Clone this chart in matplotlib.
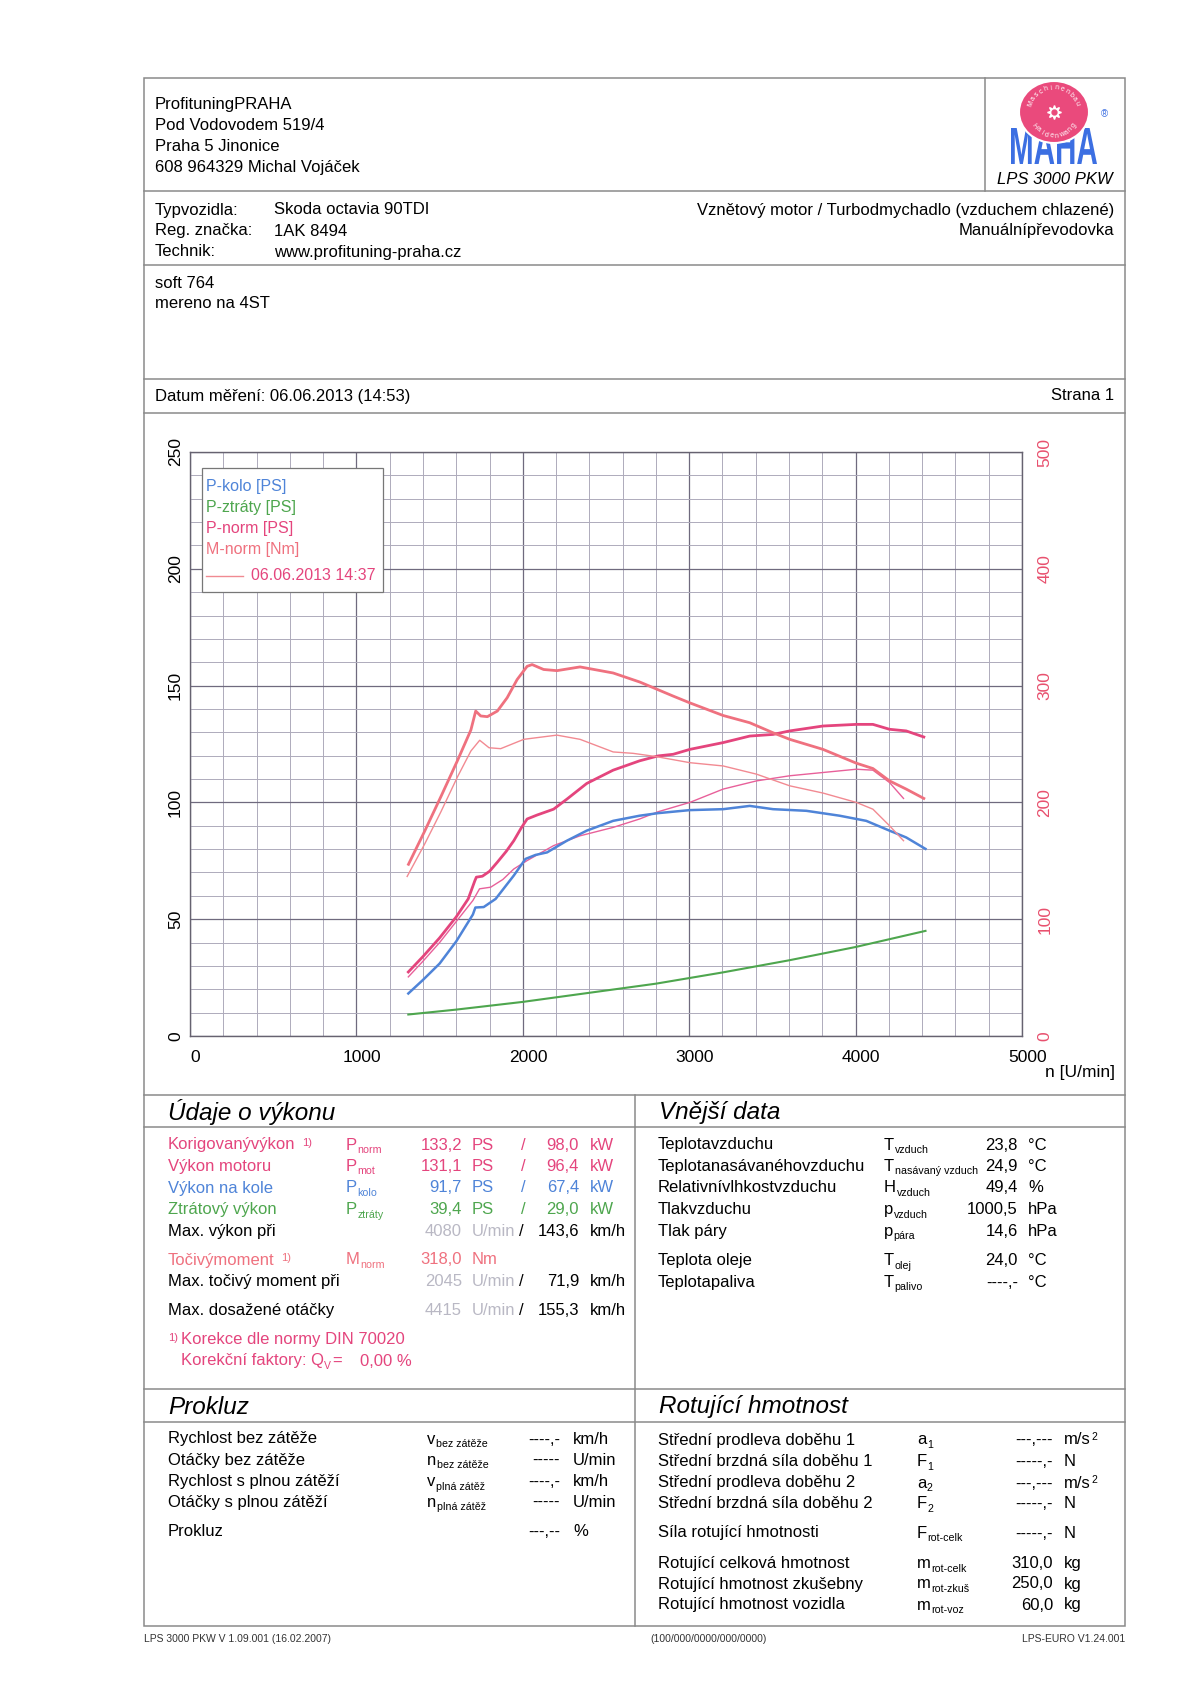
import matplotlib
matplotlib.use("Agg")
import matplotlib.pyplot as plt
from matplotlib.patches import Ellipse, Rectangle, PathPatch
from matplotlib.textpath import TextPath
from matplotlib.font_manager import FontProperties
from matplotlib.transforms import Affine2D, ScaledTranslation
import numpy as np

plt.rcParams['font.family'] = ['Liberation Sans', 'DejaVu Sans']

# ---- curve data (rpm / PS, Nm) ----
# current run (thick)
rpm_pnorm = [1312, 1400, 1500, 1600, 1672, 1712, 1721, 1757, 1800, 1847, 1900, 1946, 1990,
             2026, 2086, 2185, 2265, 2384, 2543, 2702, 2813, 2904, 3004, 3204, 3364, 3504,
             3604, 3804, 4004, 4104, 4204, 4304, 4410]
p_norm = [27.4, 34.0, 42.0, 51.0, 58.7, 66.5, 68.0, 68.4, 70.5, 74.4, 79.0, 83.6, 89.0,
          92.9, 94.6, 97.1, 101.4, 108.1, 113.8, 117.8, 119.9, 120.6, 122.7, 125.6, 128.4, 129.1,
          130.6, 132.7, 133.4, 133.4, 131.3, 130.6, 128.0]

rpm_mnorm = [1313, 1409, 1508, 1608, 1688, 1717, 1747, 1787, 1847, 1906, 1966, 2026, 2056,
             2125, 2205, 2344, 2543, 2704, 2904, 3004, 3204, 3364, 3504, 3604, 3804, 4004,
             4104, 4204, 4304, 4410]
m_norm = [147.0, 175.0, 205.0, 236.0, 262.0, 278.2, 274.0, 273.4, 278.2, 289.6, 305.2, 316.5, 318.0,
          313.8, 312.8, 316.0, 310.8, 303.0, 291.0, 285.2, 274.4, 268.2, 259.6, 254.0, 245.4, 233.6,
          229.0, 218.4, 211.4, 203.4]

rpm_kolo = [1312, 1400, 1500, 1600, 1700, 1715, 1765, 1837, 1946, 2016, 2076, 2146, 2265, 2384,
            2543, 2702, 2813, 3004, 3204, 3364, 3504, 3704, 3904, 4064, 4204, 4304, 4420]
p_kolo = [18.2, 24.0, 31.0, 40.5, 52.0, 55.0, 55.2, 58.7, 68.7, 75.8, 77.5, 78.6, 83.6, 87.9,
          92.1, 94.3, 95.4, 96.7, 97.1, 98.5, 97.1, 96.4, 94.3, 92.1, 87.9, 85.0, 80.1]

rpm_ztraty = [1312, 1600, 2000, 2400, 2800, 3200, 3600, 4000, 4420]
p_ztraty = [9.2, 11.3, 14.6, 18.5, 22.4, 27.2, 32.4, 38.1, 45.0]

# comparison run 06.06.2013 14:37 (thin)
rpm_p_old = [1312, 1400, 1500, 1600, 1700, 1740, 1807, 1880, 1946, 2026, 2185, 2344, 2543,
             2702, 2813, 3004, 3204, 3404, 3604, 3804, 4004, 4104, 4204, 4288]
p_old = [25.3, 32.0, 40.0, 49.0, 58.0, 63.0, 63.7, 67.0, 71.5, 75.1, 81.5, 85.7, 89.3,
         92.9, 96.0, 100.0, 105.7, 109.2, 111.4, 112.8, 114.2, 113.8, 108.5, 101.7]

rpm_m_old = [1305, 1409, 1508, 1608, 1688, 1741, 1797, 1867, 2006, 2205, 2344, 2543, 2663,
             2802, 3004, 3204, 3404, 3604, 3804, 4004, 4104, 4204, 4288]
m_old = [136.6, 164.0, 192.0, 222.0, 244.0, 253.2, 246.8, 246.0, 254.0, 257.6, 254.0, 243.2, 242.0,
         239.2, 234.0, 231.2, 224.2, 214.2, 208.0, 200.0, 194.2, 180.0, 167.2]

# ---- table data ----
header_lines = ["ProfituningPRAHA", "Pod Vodovodem 519/4", "Praha 5 Jinonice", "608 964329 Michal Vojáček"]
vehicle_keys = ["Typvozidla:", "Reg. značka:", "Technik:"]
vehicle_vals = ["Skoda octavia 90TDI", "1AK 8494", "www.profituning-praha.cz"]
engine_lines = ["Vznětový motor / Turbodmychadlo (vzduchem chlazené)", "Manuálnípřevodovka"]
notes = ["soft 764", "mereno na 4ST"]

perf_labels = ["Korigovanývýkon", "Výkon motoru", "Výkon na kole", "Ztrátový výkon"]
perf_subs = ["norm", "mot", "kolo", "ztráty"]
perf_ps = ["133,2", "131,1", "91,7", "39,4"]
perf_kw = ["98,0", "96,4", "67,4", "29,0"]

ext_labels = ["Teplotavzduchu", "Teplotanasávanéhovzduchu", "Relativnívlhkostvzduchu",
              "Tlakvzduchu", "Tlak páry", "Teplota oleje", "Teplotapaliva"]
ext_base = ["T", "T", "H", "p", "p", "T", "T"]
ext_subs = ["vzduch", "nasávaný vzduch", "vzduch", "vzduch", "pára", "olej", "palivo"]
ext_vals = ["23,8", "24,9", "49,4", "1000,5", "14,6", "24,0", "----,-"]
ext_units = ["°C", "°C", "%", "hPa", "hPa", "°C", "°C"]

slip_labels = ["Rychlost bez zátěže", "Otáčky bez zátěže", "Rychlost s plnou zátěží",
               "Otáčky s plnou zátěží", "Prokluz"]
slip_base = ["v", "n", "v", "n", ""]
slip_subs = ["bez zátěže", "bez zátěže", "plná zátěž", "plná zátěž", ""]
slip_vals = ["----,-", "-----", "----,-", "-----", "---,--"]
slip_units = ["km/h", "U/min", "km/h", "U/min", "%"]

rot_labels = ["Střední prodleva doběhu 1", "Střední brzdná síla doběhu 1", "Střední prodleva doběhu 2",
              "Střední brzdná síla doběhu 2", "Síla rotující hmotnosti", "Rotující celková hmotnost",
              "Rotující hmotnost zkušebny", "Rotující hmotnost vozidla"]
rot_base = ["a", "F", "a", "F", "F", "m", "m", "m"]
rot_subs = ["1", "1", "2", "2", "rot-celk", "rot-celk", "rot-zkuš", "rot-voz"]
rot_vals = ["---,---", "-----,-", "---,---", "-----,-", "-----,-", "310,0", "250,0", "60,0"]
rot_units = ["m/s", "N", "m/s", "N", "N", "kg", "kg", "kg"]

PINK = '#e4457d'
SALMON = '#ef717f'
BLUE = '#4f84d8'
GREEN = '#4ea64e'
GREY = '#b9b8c4'
LINE = '#8a8a8a'

W, H = 1200, 1696
fig = plt.figure(figsize=(12, 16.96), dpi=100)

# ---- chart ----
x0, x1, y0, y1 = 190, 1022, 452, 1036
ax = fig.add_axes([x0 / W, 1 - y1 / H, (x1 - x0) / W, (y1 - y0) / H], zorder=1)
ax.set_xlim(0, 5000)
ax.set_ylim(0, 250)
ax.set_xticks(np.arange(0, 5001, 1000))
ax.set_xticks(np.arange(0, 5001, 200), minor=True)
ax.set_yticks(np.arange(0, 251, 50))
ax.set_yticks(np.arange(0, 251, 10), minor=True)
ax.grid(which='minor', color='#aeabbb', lw=0.7)
ax.grid(which='major', color='#6f6a7e', lw=0.9)
ax.tick_params(which='both', length=0)
ax.tick_params(axis='x', labelsize=12.5, pad=10)
ax.tick_params(axis='y', labelsize=12.5, pad=5, labelrotation=90)
for lbl in ax.get_yticklabels():
    lbl.set_va('center')
off = ScaledTranslation(0.055, 0, fig.dpi_scale_trans)
for lbl in ax.get_xticklabels():
    lbl.set_transform(lbl.get_transform() + off)
for s in ax.spines.values():
    s.set_color('#666270')
    s.set_linewidth(1)

ax.plot(rpm_ztraty, p_ztraty, color=GREEN, lw=1.5)
ax.plot(rpm_p_old, p_old, color='#e8609a', lw=1.0)
ax.plot(rpm_kolo, p_kolo, color=BLUE, lw=1.8)
ax.plot(rpm_pnorm, p_norm, color=PINK, lw=2.0)

ax2 = ax.twinx()
ax2.set_ylim(0, 500)
ax2.set_yticks(np.arange(0, 501, 100))
ax2.tick_params(length=0, labelsize=12.5, pad=11, labelcolor='#e8506e', labelrotation=90)
for lbl in ax2.get_yticklabels():
    lbl.set_va('center')
for s in ax2.spines.values():
    s.set_visible(False)
ax2.plot(rpm_m_old, m_old, color='#f28a92', lw=1.0)
ax2.plot(rpm_mnorm, m_norm, color=SALMON, lw=2.0)

# ---- page overlay (pixel coordinates) ----
page = fig.add_axes([0, 0, 1, 1], zorder=10)
page.set_xlim(0, W)
page.set_ylim(H, 0)
page.axis('off')
page.patch.set_alpha(0)
renderer = fig.canvas.get_renderer()


def txt(x, y, s, size=12, color='black', ha='left', va='center', **kw):
    return page.text(x, y, s, fontsize=size, color=color, ha=ha, va=va, **kw)


def width(t):
    return t.get_window_extent(renderer).width


def sym(x, y, base, sub, color='black', size=12):
    if not base:
        return
    t = txt(x, y, base, size, color)
    txt(x + width(t) + 0.5, y + 5, sub, size * 0.64, color)


def hline(y, xa=144, xb=1125):
    page.plot([xa, xb], [y, y], color=LINE, lw=1.1)


def vline(x, ya, yb):
    page.plot([x, x], [ya, yb], color=LINE, lw=1.1)


# frame
page.add_patch(Rectangle((144, 78), 981, 1548, fill=False, ec=LINE, lw=1.1))
vline(985, 78, 190.5)
for yy in [190.5, 265, 378.7, 413, 1095, 1389]:
    hline(yy)
hline(1127, 144, 635)
hline(1127, 635, 1125)
hline(1422)
vline(635, 1095, 1626)

# header
for i, s in enumerate(header_lines):
    txt(155, 104 + i * 21.3, s)
for i, (k, v) in enumerate(zip(vehicle_keys, vehicle_vals)):
    txt(155, 210 + i * 21, k)
    txt(274, 210 + i * 21, v)
for i, s in enumerate(engine_lines):
    txt(1114.5, 210 + i * 21, s, ha='right')
for i, s in enumerate(notes):
    txt(155, 283.5 + i * 20.5, s)
txt(155, 396, "Datum měření: 06.06.2013 (14:53)")
txt(1114.5, 396, "Strana 1", ha='right')

# logo
fp = FontProperties(family='Liberation Sans', weight='bold')
tp = TextPath((0, 0), "MAHA", size=100, prop=fp)
bb = tp.get_extents()
tr = Affine2D().translate(-bb.x0, -bb.y0).scale(86 / bb.width, -36 / bb.height).translate(1011, 164)
page.add_patch(PathPatch(tr.transform_path(tp), fc='#3c6fe2', ec='none', zorder=3))
cx, cy = 1054, 112
page.add_patch(Ellipse((cx, cy), 70, 62, fc='#ea4a7c', ec='white', lw=1.5, zorder=4))
page.plot(cx, cy, marker=(8, 1, 0), ms=10, color='white', zorder=5)
page.plot(cx, cy, marker='o', ms=3.5, color='#ea4a7c', zorder=6)
for word, a0, a1, r, top in [("Maschinenbau", 160, 20, 24, True), ("Haldenwang", 215, 325, 24, False)]:
    angs = np.linspace(a0, a1, len(word))
    for ch, a in zip(word, angs):
        rot = a - 90 if top else a + 90
        page.text(cx + r * np.cos(np.radians(a)), cy - r * np.sin(np.radians(a)), ch,
                  fontsize=5, color='white', ha='center', va='center', rotation=rot, zorder=6)
txt(1101, 114, "®", size=7, color='#3c6fe2')
txt(1055, 180, "LPS 3000 PKW", size=12, ha='center', style='italic')

# chart extras
txt(1080, 1073, "n [U/min]", size=12.5, ha='center')
page.add_patch(Rectangle((201.7, 468.3), 181.6, 123.4, fc='white', ec='#777777', lw=0.9, zorder=2))
leg = [("P-kolo [PS]", BLUE), ("P-ztráty [PS]", GREEN), ("P-norm [PS]", PINK), ("M-norm [Nm]", SALMON)]
for i, (s, c) in enumerate(leg):
    txt(206, 486.7 + i * 20.9, s, size=11.5, color=c, zorder=3)
page.plot([206, 243], [576, 576], color='#f08a92', lw=1, zorder=3)
txt(251, 576, "06.06.2013 14:37", size=11.5, color=PINK, zorder=3)

# Údaje o výkonu
txt(168, 1112, "Údaje o výkonu", size=17.5, style='italic')
perf_colors = [PINK, PINK, BLUE, GREEN]
rows = [1145, 1166.5, 1188, 1209.8]
for i in range(4):
    y = rows[i]
    c = perf_colors[i]
    t = txt(167.7, y, perf_labels[i], color=c)
    if i == 0:
        txt(167.7 + width(t) + 7, y - 2, "1)", size=8, color=c)
    sym(346, y, 'P', perf_subs[i], c)
    txt(462, y, perf_ps[i], color=c, ha='right')
    txt(472, y, "PS", color=c)
    txt(523.7, y, "/", color=c, ha='center')
    txt(579, y, perf_kw[i], color=c, ha='right')
    txt(589.7, y, "kW", color=c)
for y, lab, rpm, kmh in [(1231.4, "Max. výkon při", "4080", "143,6"),
                         (1281.5, "Max. točivý moment při", "2045", "71,9"),
                         (1310.5, "Max. dosažené otáčky", "4415", "155,3")]:
    txt(167.7, y, lab)
    txt(462, y, rpm, color=GREY, ha='right')
    txt(472, y, "U/min", color=GREY)
    txt(521, y, "/", ha='center')
    txt(579, y, kmh, ha='right')
    txt(589.7, y, "km/h")
t = txt(167.7, 1260, "Točivýmoment", color=SALMON)
txt(167.7 + width(t) + 7, 1258, "1)", size=8, color=SALMON)
sym(346, 1260, 'M', "norm", SALMON)
txt(462, 1260, "318,0", color=SALMON, ha='right')
txt(472, 1260, "Nm", color=SALMON)
txt(167.7, 1338, "1)", size=8, color=PINK)
txt(180.7, 1339.5, "Korekce dle normy DIN 70020", size=12, color=PINK)
t = txt(180.7, 1361, "Korekční faktory: Q", size=12, color=PINK)
qx = 180.7 + width(t)
txt(qx + 0.5, 1366, "V", size=7.5, color=PINK)
txt(qx + 9, 1361, "=", size=12, color=PINK)
txt(360, 1361, "0,00 %", size=12, color=PINK)

# Vnější data
txt(659, 1112, "Vnější data", size=17.5, style='italic')
ext_rows = [1145, 1166.5, 1188, 1209.8, 1231.4, 1260.6, 1282.3]
for i, y in enumerate(ext_rows):
    txt(658, y, ext_labels[i])
    sym(884, y, ext_base[i], ext_subs[i])
    txt(1018, y, ext_vals[i], ha='right')
    txt(1028, y, ext_units[i])

# Prokluz
txt(168, 1407, "Prokluz", size=17.5, style='italic')
slip_rows = [1439, 1460.5, 1481.5, 1502.5, 1532]
for i, y in enumerate(slip_rows):
    txt(167.7, y, slip_labels[i])
    sym(427, y, slip_base[i], slip_subs[i])
    txt(560, y, slip_vals[i], ha='right')
    txt(573, y, slip_units[i])

# Rotující hmotnost
txt(659, 1407, "Rotující hmotnost", size=17.5, style='italic')
rot_rows = [1440, 1461.5, 1483, 1504, 1533, 1563.5, 1584, 1605]
for i, y in enumerate(rot_rows):
    txt(658, y, rot_labels[i])
    sym(917, y, rot_base[i], rot_subs[i])
    txt(1053, y, rot_vals[i], ha='right')
    t = txt(1064, y, rot_units[i])
    if rot_units[i] == "m/s":
        txt(1064 + width(t) + 0.5, y - 3, "2", size=7.5)

# footer
txt(144, 1639, "LPS 3000 PKW V 1.09.001 (16.02.2007)", size=7.5, color='#333333')
txt(709, 1639, "(100/000/0000/000/0000)", size=7.5, color='#333333', ha='center')
txt(1125, 1639, "LPS-EURO V1.24.001", size=7.5, color='#333333', ha='right')

fig.savefig("out.png", dpi=100, facecolor='white')
